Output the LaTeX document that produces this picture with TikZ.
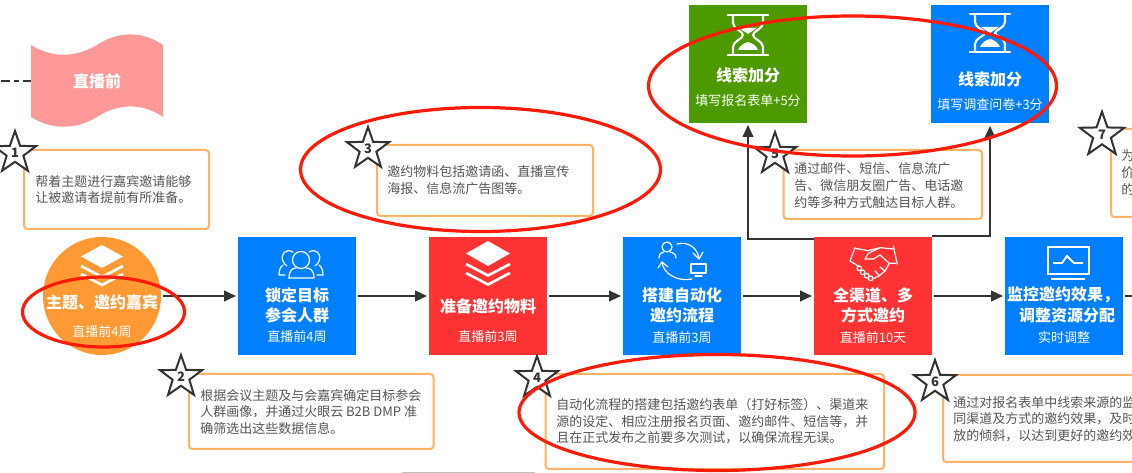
\documentclass[tikz,border=0pt]{standalone}
\usepackage{fontspec}
\setmainfont{Noto Sans CJK SC}
\usetikzlibrary{shapes.geometric,arrows.meta,calc}
\definecolor{cblue}{HTML}{007FFF}
\definecolor{cred}{HTML}{FF3333}
\definecolor{cgreen}{HTML}{4C9900}
\definecolor{corange}{HTML}{FF9933}
\definecolor{cpink}{HTML}{FF9999}
\definecolor{cnote}{HTML}{FFB366}
\definecolor{cring}{HTML}{FF1A0A}
\definecolor{cdark}{HTML}{333333}
\definecolor{ctext}{HTML}{555555}
\tikzset{
  stepbox/.style={rectangle,draw=none,minimum width=88.5pt,minimum height=88.5pt,inner sep=0pt,outer sep=0pt},
  stepcirc/.style={circle,draw=none,fill=corange,minimum size=88.5pt,inner sep=0pt,outer sep=0pt},
  flow/.style={draw=cdark,line width=1.5pt,-{Triangle[length=9pt,width=8pt]},shorten >=1.5pt,shorten <=1.5pt},
  notebox/.style={draw=cnote,line width=1.5pt,fill=white,rounded corners=2.5pt},
  notetext/.style={anchor=west,align=left,text=ctext,inner sep=0pt,font=\fontsize{9.75}{12.4}\selectfont},
  title/.style={text=white,inner sep=0pt,align=center,font=\fontsize{12}{15}\selectfont\bfseries},
  subtitle/.style={text=white,inner sep=0pt,align=center,font=\fontsize{9.75}{12}\selectfont},
  badge/.style={star,star points=5,star point ratio=2.5,draw=cdark,line width=1.5pt,fill=white,minimum size=33pt,inner sep=0pt,text=cdark,font=\fontsize{9.75}{12}\selectfont\bfseries},
  ring/.style={draw=cring,line width=2.4pt},
  icon/.style={draw=white,line width=0.9pt,line cap=round,line join=round},
  iconb/.style={draw=white,line width=2.2pt,line cap=round,line join=round},
}
\begin{document}
\begin{tikzpicture}[x=0.75pt,y=-0.75pt]
\useasboundingbox (0,0) rectangle (1132,473);
\clip (0,0) rectangle (1132,473);
\fill[white] (0,0) rectangle (1132,473);

% wave banner
\fill[cpink] (31,45) .. controls (52,58) and (75,58) .. (97,45) .. controls (115,33) and (140,29) .. (163,45)
  -- (163,117) .. controls (140,101) and (115,105) .. (97,117) .. controls (75,130) and (52,130) .. (31,117) -- cycle;
\node[title] (wave) at (97,81) {直播前};
\coordinate (waveL) at (31,81);
\coordinate (waveEnd) at (1,81);
\draw[cdark,line width=1.5pt,dash pattern=on 6.75pt off 3pt on 3.75pt off 3pt] (waveEnd) -- (waveL);

% steps
\node[stepcirc] (s1) at (102,296) {};
\node[stepbox,fill=cblue] (s2) at (297,296) {};
\node[stepbox,fill=cred] (s3) at (488,296) {};
\node[stepbox,fill=cblue] (s4) at (682,296) {};
\node[stepbox,fill=cred] (s5) at (873,296) {};
\node[stepbox,fill=cblue] (s6) at (1064,296) {};
\node[stepbox,fill=cgreen] (g1) at (748,64) {};
\node[stepbox,fill=cblue] (g2) at (990,64) {};
\coordinate (off) at (1170,296);

\draw[flow] (s1) -- (s2);
\draw[flow] (s2) -- (s3);
\draw[flow] (s3) -- (s4);
\draw[flow] (s4) -- (s5);
\draw[flow] (s5) -- (s6);
\draw[flow] (s6) -- (off);
\coordinate (upL) at (814,239);
\coordinate (upR) at (932,236.5);
\draw[flow,shorten <=0pt] (upL) -| (g1.south);
\draw[flow,shorten <=0pt,shorten >=2.2pt] (upR) -| (g2.south);

% step labels
\node[title] (t1) at (102,302) {主题、邀约嘉宾};
\node[subtitle] (u1) at (102,332) {直播前4周};
\node[title] (t2) at (297,305) {锁定目标\\[0pt]参会人群};
\node[subtitle] (u2) at (297,337) {直播前4周};
\node[title] (t3) at (488,306) {准备邀约物料};
\node[subtitle] (u3) at (488,337) {直播前3周};
\node[title] (t4) at (682,305) {搭建自动化\\邀约流程};
\node[subtitle] (u4) at (682,338) {直播前3周};
\node[title] (t5) at (873,305) {全渠道、多\\方式邀约};
\node[subtitle] (u5) at (873,338) {直播前10天};
\node[title] (t6a) at (1063,295) {监控邀约效果，};
\node[title] (t6b) at (1067,315) {调整资源分配};
\node[subtitle] (u6) at (1064,338) {实时调整};
\node[title] (tg1) at (748,75) {线索加分};
\node[subtitle] (ug1) at (748,101) {填写报名表单+5分};
\node[title] (tg2) at (990,79) {线索加分};
\node[subtitle] (ug2) at (990,105) {填写调查问卷+3分};

% layers icon on circle
\fill[white] (102,245) -- (123,256.5) -- (102,268) -- (81,256.5) -- cycle;
\draw[white,line width=2pt,line join=miter] (81,266) -- (102,277) -- (123,266);
\draw[white,line width=2pt,line join=miter] (81,274) -- (102,285) -- (123,274);
% layers icon on red
\fill[white] (488,241) -- (510,253.5) -- (488,266) -- (466,253.5) -- cycle;
\draw[white,line width=2pt,line join=miter] (466,264) -- (488,275.5) -- (510,264);
\draw[white,line width=2pt,line join=miter] (466,273) -- (488,284.5) -- (510,273);

% people icon
\draw[icon] (301,260) circle (8.5);
\draw[icon] (289,278) .. controls (289,270) and (293,268) .. (296,268);
\draw[icon] (306,268) .. controls (310,268) and (314,270) .. (314,278) -- (289,278);
\draw[icon] (293,252) .. controls (286,248) and (280,254) .. (283,261) .. controls (284,264) and (285,264) .. (287,266);
\draw[icon] (283,265) .. controls (280,267) and (279,271) .. (279,275) -- (285,275);
\draw[icon] (309,252) .. controls (316,248) and (322,254) .. (319,261) .. controls (318,264) and (317,264) .. (315,266);
\draw[icon] (319,265) .. controls (322,267) and (323,271) .. (323,275) -- (317,275);

% automation icon
\draw[icon] (667,247) circle (5);
\draw[icon] (659,258) .. controls (659,252) and (663,253) .. (664,252);
\draw[icon] (670,252) .. controls (672,253) and (676,253) .. (676,258);
\draw[icon] (677,244) .. controls (688,241) and (698,248) .. (699,259);
\draw[icon] (693,253) -- (699,259) -- (703,252);
\draw[icon] (692,279) .. controls (678,282) and (663,274) .. (662,262);
\draw[icon] (658,268) -- (662,262) -- (668,267);
\draw[icon] (691,264) rectangle (706,273);
\draw[icon] (695,276) -- (702,276);

% handshake icon
\begin{scope}[shift={(830,235)},x=0.25pt,y=-0.25pt]
\draw[icon] (75,38) -- (60,78) -- (88,95);
\draw[icon] (190,33) -- (202,88);
\draw[icon] (75,40) -- (115,47) -- (150,38) -- (190,42);
\draw[icon] (150,38) -- (115,55) -- (105,72) -- (130,72) -- (150,60) -- (178,85) -- (196,85);
\draw[icon] (178,85) -- (165,108) -- (148,122) -- (132,130);
\draw[icon] (150,96) -- (165,108);
\draw[icon] (135,108) -- (148,122);
\foreach \a/\b in {88/100,98/112,110/122,122/130}{\draw[icon] (\a,\b) circle (7);}
\end{scope}

% monitor icon
\draw[white,line width=1.7pt] (1048,247) rectangle (1089,274);
\draw[white,line width=1.4pt] (1053,263) -- (1062,263) -- (1067,256) -- (1074,263) -- (1083,263);
\draw[white,line width=1.7pt] (1051,279) -- (1085,279);

% hourglasses
\foreach \cx/\ty/\by in {748/15/55,990/14/52}{
  \draw[iconb] (\cx-20,\ty) -- (\cx+20,\ty);
  \draw[iconb] (\cx-20,\by) -- (\cx+20,\by);
  \draw[white,line width=1.6pt] (\cx-15,\ty) -- (\cx-15,{\ty+8})
     .. controls (\cx-15,{\ty+14}) and (\cx-5,{\ty+16}) .. (\cx-5,{(\ty+\by)/2})
     .. controls (\cx-5,{\by-16}) and (\cx-15,{\by-14}) .. (\cx-15,{\by-8}) -- (\cx-15,\by);
  \draw[white,line width=1.6pt] (\cx+15,\ty) -- (\cx+15,{\ty+8})
     .. controls (\cx+15,{\ty+14}) and (\cx+5,{\ty+16}) .. (\cx+5,{(\ty+\by)/2})
     .. controls (\cx+5,{\by-16}) and (\cx+15,{\by-14}) .. (\cx+15,{\by-8}) -- (\cx+15,\by);
  \fill[white] (\cx-9,{\ty+13}) -- (\cx+9,{\ty+13}) -- (\cx,{\ty+19}) -- cycle;
  \fill[white] (\cx,{\by-13}) .. controls (\cx+5,{\by-12}) and (\cx+9,{\by-8}) .. (\cx+10,{\by-5}) -- (\cx-10,{\by-5}) .. controls (\cx-9,{\by-8}) and (\cx-5,{\by-12}) .. (\cx,{\by-13});
}

% note boxes
\draw[notebox] (24,150) rectangle (209,229);
\draw[notebox] (189,374) rectangle (433.5,449);
\draw[notebox] (377,145) rectangle (593,216);
\draw[notebox] (545.5,374) rectangle (884,469);
\draw[notebox] (783.5,150) rectangle (982,219);
\draw[notebox] (943,375) rectangle (1180,462);
\draw[notebox] (1111,129) rectangle (1180,217);

\node[notetext] (n1) at (35,189.5) {帮着主题进行嘉宾邀请能够\\让被邀请者提前有所准备。};
\node[notetext] (n2) at (200,412) {根据会议主题及与会嘉宾确定目标参会\\人群画像，并通过火眼云 B2B DMP 准\\确筛选出这些数据信息。};
\node[notetext] (n3) at (387,180) {邀约物料包括邀请函、直播宣传\\海报、信息流广告图等。};
\node[notetext] (n4) at (556,421.5) {自动化流程的搭建包括邀约表单（打好标签）、渠道来\\源的设定、相应注册报名页面、邀约邮件、短信等，并\\且在正式发布之前要多次测试，以确保流程无误。};
\node[notetext] (n5) at (794,185.5) {通过邮件、短信、信息流广\\告、微信朋友圈广告、电话邀\\约等多种方式触达目标人群。};
\node[notetext] (n6) at (953,419) {通过对报名表单中线索来源的监\\同渠道及方式的邀约效果，及时\\放的倾斜，以达到更好的邀约效};
\node[notetext] (n7) at (1121,172.5) {为\\价\\的};

% badges
\node[badge] (b1) at (15,153) {1};
\node[badge] (b2) at (181,377) {2};
\node[badge] (b3) at (368,149) {3};
\node[badge] (b4) at (537,378) {4};
\node[badge] (b5) at (775,154) {5};
\node[badge] (b6) at (935,382) {6};
\node[badge,minimum size=35pt] (b7) at (1102,135) {7};

% bottom rule
\draw[gray!50,line width=0.75pt] (402,472.5) -- (535,472.5);

% red rings
\draw[ring] (103.5,312) ellipse [x radius=81,y radius=35];
\draw[ring] (480.5,169.5) ellipse [x radius=180,y radius=62];
\draw[ring] (717,412.5) ellipse [x radius=198,y radius=58];
\draw[ring] (852.5,86) ellipse [x radius=204,y radius=70];
\end{tikzpicture}
\end{document}
